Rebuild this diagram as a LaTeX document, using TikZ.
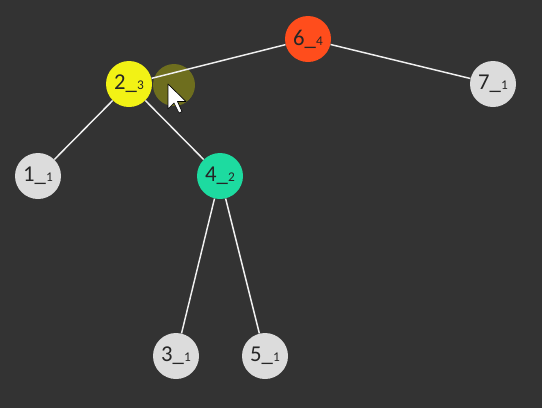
\documentclass[tikz,border=0pt]{standalone}
\usepackage{fontspec}
\setmainfont{Carlito}
\definecolor{bgdark}{HTML}{333333}
\definecolor{nodegray}{HTML}{DCDCDC}
\definecolor{rootred}{HTML}{FF4D1C}
\definecolor{hotyellow}{HTML}{F2F215}
\definecolor{mintgreen}{HTML}{1DDBA0}
\definecolor{hoverolive}{HTML}{6E6E1E}
\newcommand{\keyht}[2]{#1\_{\fontsize{10}{11}\selectfont #2}}
\begin{document}
\begin{tikzpicture}[x=0.75pt,y=-0.75pt,
    treenode/.style={circle,fill=nodegray,minimum size=34.5pt,inner sep=0pt,
      text=black!85,font=\fontsize{17}{19}\selectfont},
    treeedge/.style={white!88!gray,line width=1.1pt}]
  \fill[bgdark] (0,0) rectangle (542,408);
  % mouse highlight
  \fill[hoverolive] (174,85) circle (21);
  \node[treenode,fill=rootred]   (n6) at (308,39)  {\keyht{6}{4}};
  \node[treenode,fill=hotyellow] (n2) at (129,84)  {\keyht{2}{3}};
  \node[treenode]                (n7) at (493,84)  {\keyht{7}{1}};
  \node[treenode]                (n1) at (38,176)  {\keyht{1}{1}};
  \node[treenode,fill=mintgreen] (n4) at (220,176) {\keyht{4}{2}};
  \node[treenode]                (n3) at (176,356) {\keyht{3}{1}};
  \node[treenode]                (n5) at (265,356) {\keyht{5}{1}};
  \foreach \a/\b in {n6/n2,n6/n7,n2/n1,n2/n4,n4/n3,n4/n5}
    \draw[treeedge] (\a) -- (\b);
  % cursor
  \draw[black,line width=0.5pt,fill=white,line join=round] (168,84) -- ++(0,25) -- ++(6,-6)
    -- ++(5,10) -- ++(3,-1.5) -- ++(-4.5,-10) -- ++(8.5,0) -- cycle;
\end{tikzpicture}
\end{document}
